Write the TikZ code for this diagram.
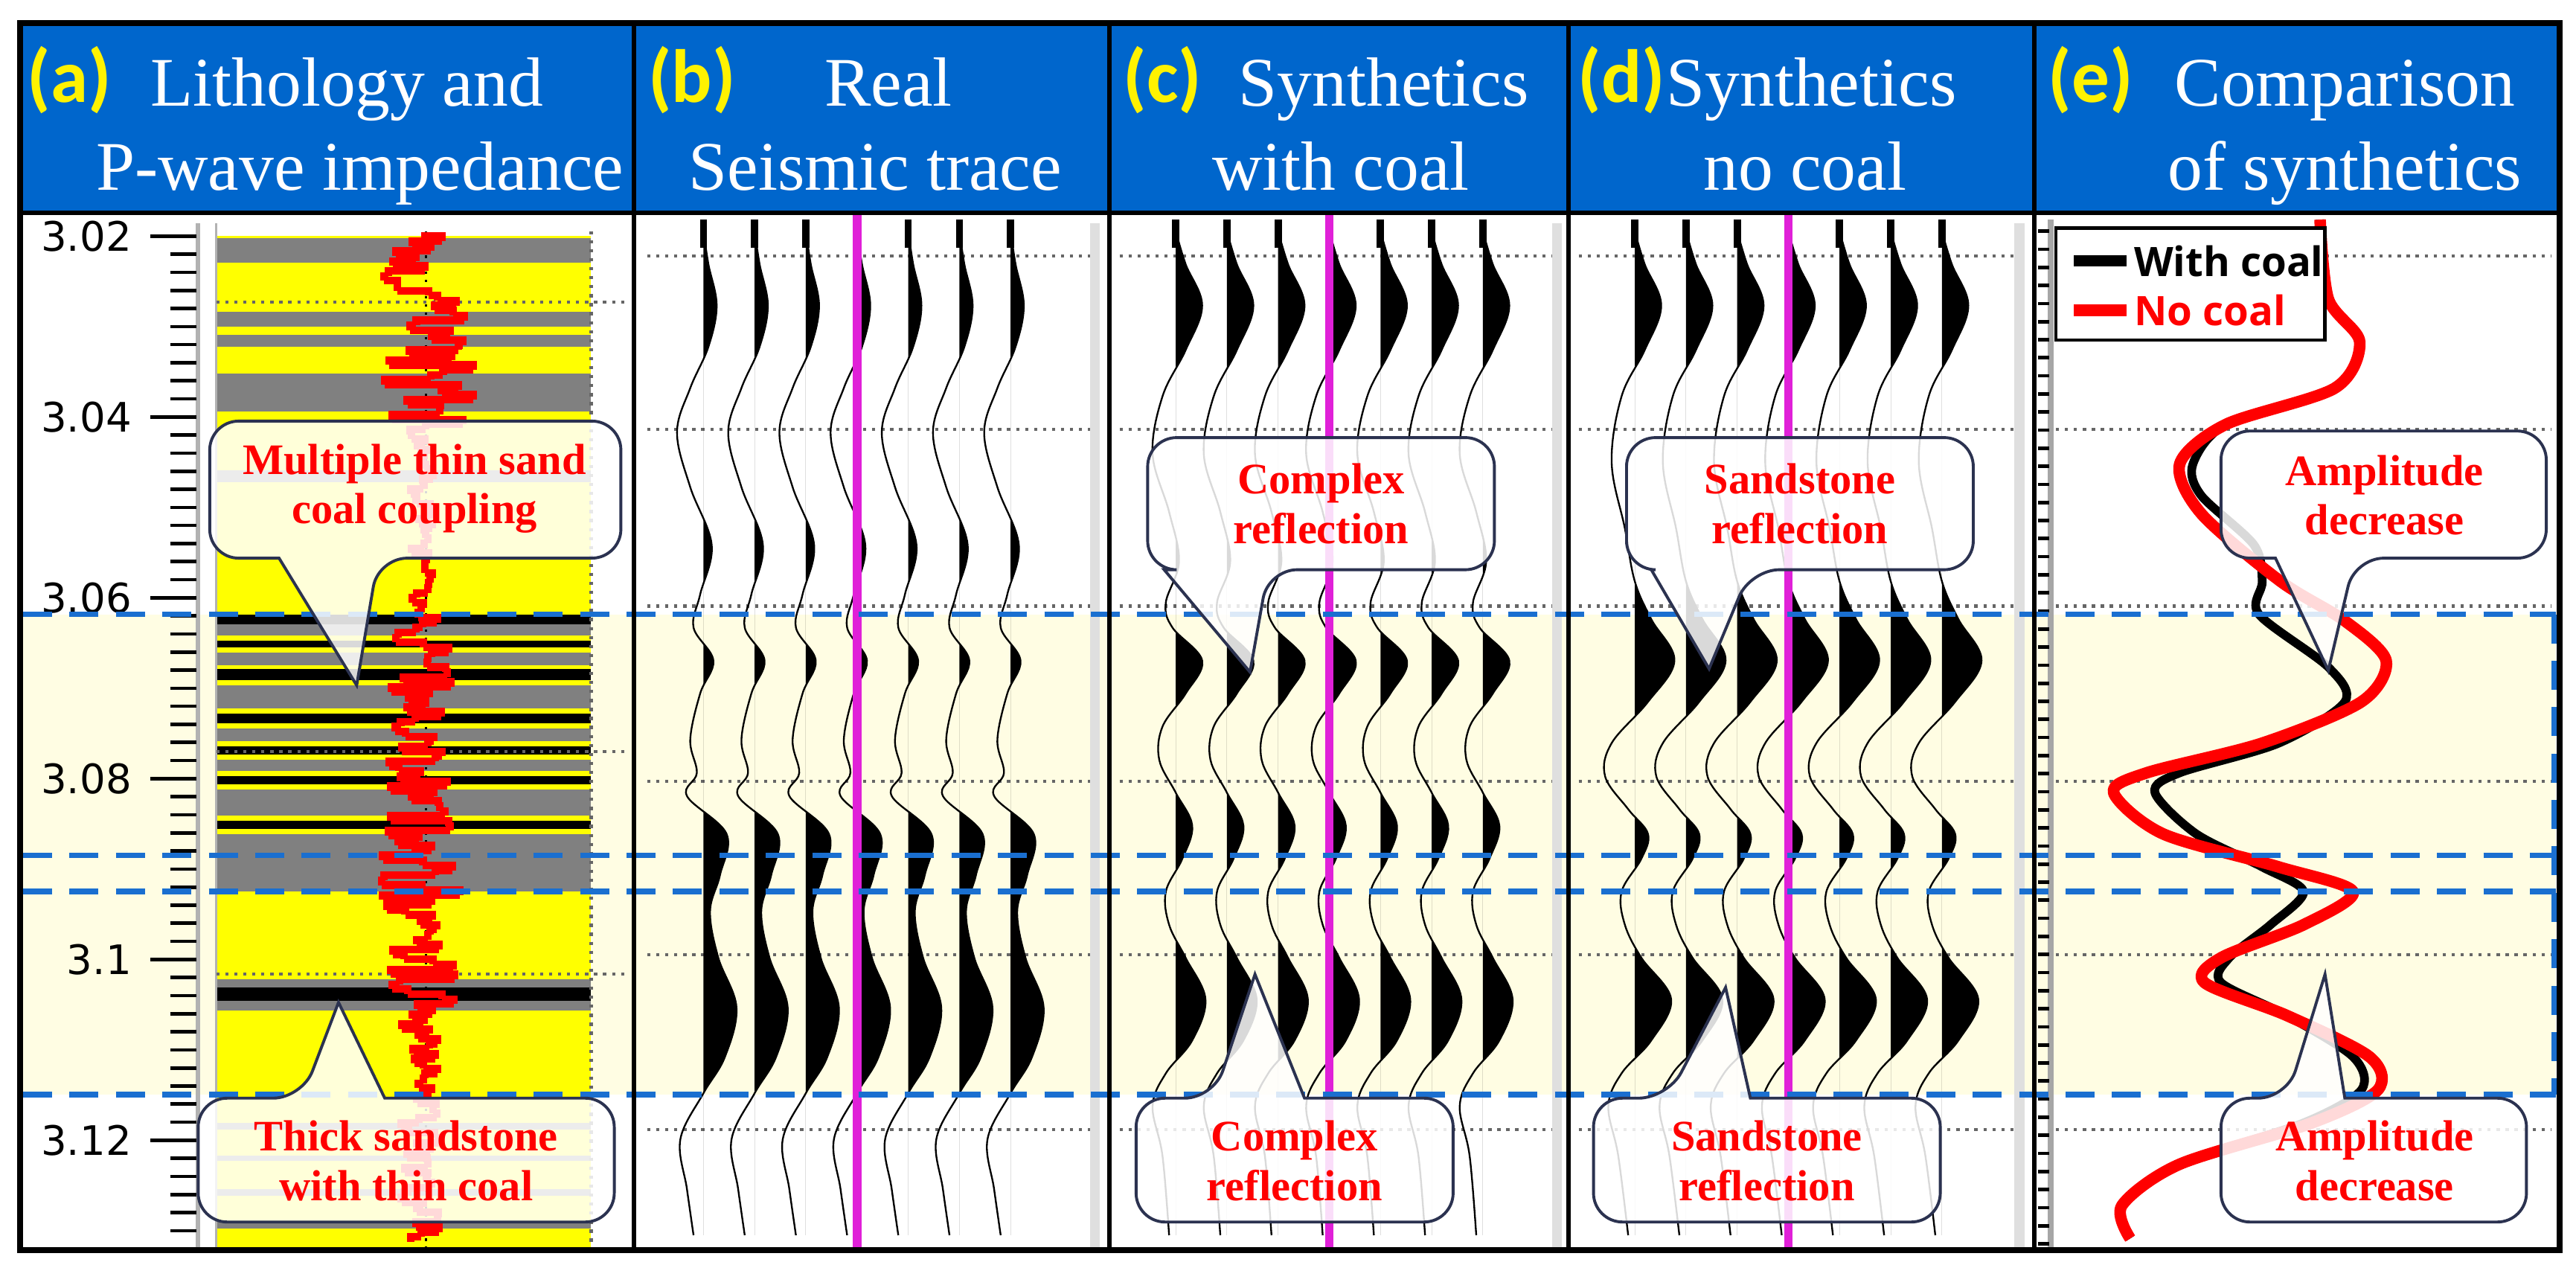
\documentclass[tikz,border=0pt]{standalone}
\usepackage{fontspec}
\setmainfont{Liberation Serif}
\newfontfamily\labf{Carlito}
\newfontfamily\axf{DejaVu Sans}
\newfontfamily\legf{Open Sans}
\definecolor{hdr}{HTML}{0066CC}
\definecolor{band}{HTML}{FFFDE3}
\definecolor{dblue}{HTML}{1A6FD0}
\definecolor{mag}{HTML}{E020D8}
\definecolor{cob}{HTML}{2B3250}
\definecolor{lyel}{HTML}{FFFF00}
\definecolor{lgray}{HTML}{808080}
\tikzset{
 trace/.style={black,line width=0.6pt},
 grid/.style={gray!80!black,dotted,line width=1.1pt},
 imp/.style={red,line width=2.6pt},
 bdash/.style={dblue,line width=2pt,dash pattern=on 10pt off 6pt},
 co/.style={draw=cob,line width=1pt,fill=white,fill opacity=0.85,rounded corners=10pt},
 cot/.style={text=red,font=\fontsize{15}{17}\selectfont\bfseries,align=center},
 ht/.style={text=white,font=\fontsize{24}{28}\selectfont,inner sep=0pt,anchor=base},
 hl/.style={text=yellow,font=\labf\fontsize{26}{28}\selectfont\bfseries,inner sep=0pt,anchor=base},
 ax/.style={font=\axf\fontsize{14}{16}\selectfont,anchor=east,inner sep=0pt},
 mline/.style={mag,line width=3pt},
}
\newcommand\wig[2]{\begin{scope}[shift={(#1,0)}]
 \begin{scope}\clip (0,130) rectangle (45,757);
 \fill[black] (0,140) -- plot[smooth,tension=0.6] coordinates {#2} -- (0,748) -- cycle;\end{scope}
 \draw[black,line width=2.5pt] (0,133) -- (0,150);
 \draw[trace] plot[smooth,tension=0.6] coordinates {#2};
\end{scope}}
\newcommand\codown[8]{\path[co] (#1,#2) -- (#3,#2) -- (#3,#4) -- (#6,#4) [sharp corners] -- (#7,#8) -- (#5,#4) [rounded corners=10pt] -- (#1,#4) -- cycle;}
\newcommand\coup[8]{\path[co] (#1,#4) -- (#1,#2) -- (#5,#2) [sharp corners] -- (#7,#8) -- (#6,#2) [rounded corners=10pt] -- (#3,#2) -- (#3,#4) -- cycle;}
\begin{document}
\begin{tikzpicture}[x=0.02cm,y=-0.02cm]
\useasboundingbox (0,0) rectangle (1560,766);
\fill[white] (0,0) rectangle (1560,766);
\fill[band] (12,372) rectangle (1548,663);
\fill[lyel] (131,143) rectangle (358,757);
\foreach \a/\b in {144/159,189/198,203/210,226/249,285/292,505/540,680/684,700/703,720/724,740/744}
  \fill[lgray] (131,\a) rectangle (358,\b);
\foreach \a/\b in {372/378,388/392,405/412,432/438,452/457,470/475,497/502}
  \fill[black] (131,\a) rectangle (358,\b);
\foreach \a/\b in {378/385,395/403,415/429,441/449,460/467,478/494}
  \fill[lgray] (131,\a) rectangle (358,\b);
\fill[lgray] (131,593) rectangle (358,612);
\fill[black] (131,598) rectangle (358,606);
\draw[gray!60,line width=1.5pt] (120,135) -- (120,757);
\draw[gray!60,line width=0.8pt] (131,135) -- (131,757);
\draw[grid] (358,140) -- (358,757);
\draw[grid] (131,183) -- (380,183);
\draw[grid] (131,455) -- (380,455);
\draw[grid] (131,590) -- (380,590);
\draw[black,dotted,line width=0.8pt] (258,140) -- (258,757);
\pgfmathsetseed{11}
\gdef\px{255}
\foreach \yy in {143,146,...,749}{
 \pgfmathsetmacro\amp{\yy<255 ? 30 : (\yy<372 ? 8 : (\yy<505 ? 20 : (\yy<620 ? 24 : 12)))}
 \pgfmathsetmacro\ctr{\yy<255 ? 248+0.12*(\yy-143) : 255}
 \pgfmathsetmacro\xx{\ctr+\amp*rand}
 \draw[imp] (\px,\yy) -- (\xx,\yy) -- (\xx,\yy+3);
 \xdef\px{\xx}
}
\foreach \i in {0,...,56} \draw[black,line width=1.2pt] (103,143+\i*10.95) -- (119,143+\i*10.95);
\foreach \v/\t in {0/3.02,1/3.04,2/3.06,3/3.08,4/3.1,5/3.12}{
 \draw[black,line width=1.2pt] (91,143+\v*109.5) -- (119,143+\v*109.5);
 \node[ax] (lab\v) at (80,143+\v*109.5) {\t};
}
\foreach \y in {155,260,367,473,578,684}{
 \draw[grid] (392,\y) -- (665,\y);
 \draw[grid] (678,\y) -- (945,\y);
 \draw[grid] (956,\y) -- (1225,\y);
 \draw[grid] (1245,\y) -- (1545,\y);
}
\foreach \x in {660,940,1220} \fill[gray!25] (\x,135) rectangle (\x+6,757);
\foreach \bx in {426,457,488,519,550,581,612}
 \wig{\bx}{(0,140) (3,160) (8,185) (3,210) (-8,235) (-16,262) (-8,295) (5,330) (-2,360) (-6,380) (6,400) (-2,420) (-8,448) (-4,468) (-10,482) (14,505) (10,530) (4,552) (9,580) (20,610) (13,640) (0,662) (-14,690) (-10,720) (-6,748)};
\foreach \bx in {712,743,774,805,836,867,898}
 \wig{\bx}{(0,140) (6,160) (16,185) (6,212) (-8,240) (-14,275) (-4,310) (2,340) (-6,365) (-2,380) (16,400) (6,420) (-8,440) (-10,460) (0,480) (10,500) (4,520) (-6,540) (-4,560) (6,580) (18,605) (10,630) (-6,650) (-14,670) (-8,700) (-4,748)};
\foreach \bx in {990,1021,1052,1083,1114,1145,1176}
 \wig{\bx}{(0,140) (6,160) (16,185) (6,212) (-8,240) (-14,280) (-6,320) (0,352) (10,375) (24,400) (8,425) (-14,450) (-18,470) (-4,490) (8,505) (4,520) (-8,540) (-6,560) (4,580) (22,605) (10,630) (-8,650) (-16,670) (-10,700) (-4,748)};
\draw[mline] (519,130) -- (519,757);
\draw[mline] (805,130) -- (805,757);
\draw[mline] (1083,130) -- (1083,757);
\draw[gray!70,line width=2pt] (1242,133) -- (1242,757);
\foreach \i in {0,...,56} \draw[black,line width=1.2pt] (1234,140+\i*10.95) -- (1241,140+\i*10.95);
\draw[black,line width=3pt,line join=round] plot[smooth,tension=0.5] coordinates {(1405,133) (1410,181) (1429,207) (1414,235) (1348,257) (1328,281) (1333,300) (1365,330) (1370,352) (1368,372) (1410,404) (1420,425) (1380,450) (1320,468) (1305,480) (1330,505) (1370,525) (1395,540) (1375,560) (1350,580) (1345,595) (1385,615) (1425,640) (1430,660) (1395,680) (1320,705) (1285,730) (1290,750)};
\draw[red,line width=4pt,line join=round] plot[smooth,tension=0.5] coordinates {(1405,133) (1410,181) (1429,207) (1414,235) (1348,257) (1320,281) (1333,311) (1381,352) (1420,376) (1445,400) (1430,425) (1370,450) (1300,468) (1280,480) (1310,505) (1380,525) (1425,540) (1395,560) (1345,580) (1335,595) (1385,615) (1435,640) (1440,660) (1400,680) (1320,705) (1285,730) (1290,750)};
\draw[black,line width=1.2pt,fill=white] (1245,138) rectangle (1408,206);
\draw[black,line width=4pt] (1256,158) -- (1288,158);
\draw[red,line width=4pt] (1256,188) -- (1288,188);
\node[font=\legf\fontsize{14}{16}\selectfont\bfseries,anchor=west,inner sep=0pt] (lw) at (1292,158) {With coal};
\node[font=\legf\fontsize{14}{16}\selectfont\bfseries,anchor=west,inner sep=0pt,text=red] (ln) at (1292,188) {No coal};
\foreach \y in {372,518,540,663} \draw[bdash] (14,\y) -- (1548,\y);
\draw[bdash] (1547,372) -- (1547,663);
\codown{127}{255}{376}{338}{169}{229}{216}{415}
\node[cot] (c1) at (251,296) {Multiple thin sand\\coal coupling};
\coup{120}{665}{372}{740}{183}{233}{205}{607}
\node[cot] (c2) at (246,703) {Thick sandstone\\with thin coal};
\codown{695}{265}{905}{345}{705}{768}{757}{407}
\node[cot] (c3) at (800,305) {Complex\\reflection};
\coup{688}{665}{880}{740}{735}{790}{760}{590}
\node[cot] (c4) at (784,703) {Complex\\reflection};
\codown{985}{265}{1195}{345}{1000}{1060}{1035}{405}
\node[cot] (c5) at (1090,305) {Sandstone\\reflection};
\coup{965}{665}{1175}{740}{1010}{1060}{1045}{598}
\node[cot] (c6) at (1070,703) {Sandstone\\reflection};
\codown{1345}{261}{1542}{338}{1378}{1426}{1410}{406}
\node[cot] (c7) at (1444,300) {Amplitude\\decrease};
\coup{1345}{665}{1530}{740}{1385}{1420}{1408}{590}
\node[cot] (c8) at (1438,703) {Amplitude\\decrease};
\fill[hdr] (12,14) rectangle (1550,129);
\node[hl] (la) at (42,62) {(a)};
\node[ht] (ta1) at (210,64) {Lithology and};
\node[ht] (ta2) at (218,115) {P-wave impedance};
\node[hl] (lb) at (419,62) {(b)};
\node[ht] (tb1) at (538,64) {Real};
\node[ht] (tb2) at (530,115) {Seismic trace};
\node[hl] (lc) at (704,62) {(c)};
\node[ht] (tc1) at (838,64) {Synthetics};
\node[ht] (tc2) at (812,115) {with coal};
\node[hl] (ld) at (982,62) {(d)};
\node[ht] (td1) at (1097,64) {Synthetics};
\node[ht] (td2) at (1093,115) {no coal};
\node[hl] (le) at (1266,62) {(e)};
\node[ht] (te1) at (1420,64) {Comparison};
\node[ht] (te2) at (1420,115) {of synthetics};
\draw[black,line width=1.6pt] (12,129) -- (1550,129);
\foreach \x in {384,672,950,1232} \draw[black,line width=1.6pt] (\x,14) -- (\x,757);
\draw[black,line width=2pt] (12,14) rectangle (1550,757);
\end{tikzpicture}
\end{document}
